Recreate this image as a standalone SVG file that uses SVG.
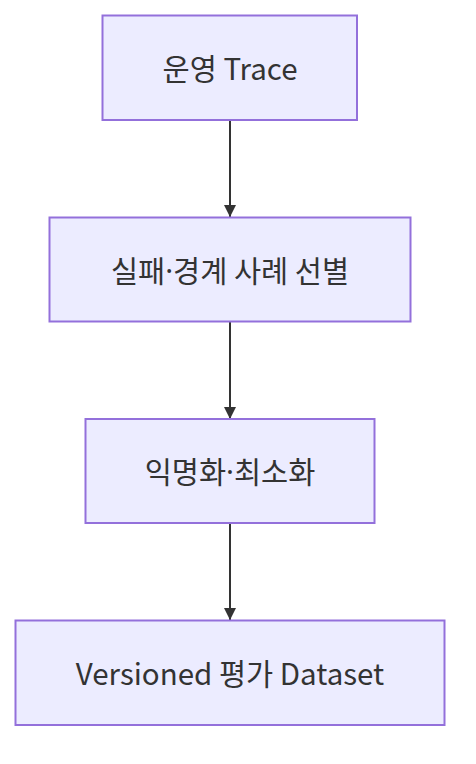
<svg xmlns="http://www.w3.org/2000/svg" width="476" height="764" viewBox="0 0 476 764">
<defs>
<style>
.node rect{fill:#ECECFF;stroke:#9370DB;stroke-width:2}
.node text{font-family:"Noto Sans CJK KR","Noto Sans",sans-serif;font-size:29.5px;fill:#333;text-anchor:middle;dominant-baseline:central}
.dot{font-family:"Noto Sans","DejaVu Sans",sans-serif}
.edge{stroke:#333;stroke-width:2;fill:none}
</style>
<marker id="arrow" viewBox="0 0 12 12" refX="12" refY="6" markerWidth="12" markerHeight="12" markerUnits="userSpaceOnUse" orient="auto">
<path d="M0,0 L12,6 L0,12 Z" fill="#333"/>
</marker>
</defs>
<g id="edges">
<line class="edge" x1="230" y1="121" x2="230" y2="217" marker-end="url(#arrow)"/>
<line class="edge" x1="230" y1="322" x2="230" y2="419" marker-end="url(#arrow)"/>
<line class="edge" x1="230" y1="524" x2="230" y2="620" marker-end="url(#arrow)"/>
</g>
<g id="n1" class="node"><rect x="102.5" y="15.5" width="254.5" height="104.5"/><text x="230" y="67">운영 Trace</text></g>
<g id="n2" class="node"><rect x="49.5" y="217.5" width="361" height="104"/><text x="230" y="268.5">실패<tspan class="dot">·</tspan>경계 사례 선별</text></g>
<g id="n3" class="node"><rect x="85.5" y="419" width="289" height="104"/><text x="230" y="470">익명화<tspan class="dot">·</tspan>최소화</text></g>
<g id="n4" class="node"><rect x="15.5" y="620.5" width="429" height="104.5"/><text x="230" y="671.5">Versioned 평가 Dataset</text></g>
</svg>
